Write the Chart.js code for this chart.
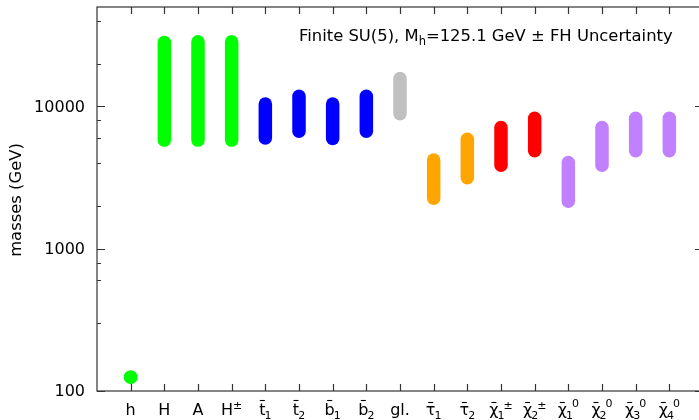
<!DOCTYPE html>
<html>
<head>
<meta charset="utf-8">
<script src="https://cdn.jsdelivr.net/npm/chart.js@4.4.1/dist/chart.umd.min.js"></script>
<style>
  html, body { margin: 0; padding: 0; background: #fff; overflow: hidden; }
  #wrap { width: 699px; height: 420px; overflow: hidden; }
</style>
</head>
<body>
<div id="wrap"><canvas id="massChart" width="710" height="420"></canvas></div>
<script>
// Particle labels (base glyph, subscript, superscript, bar on top)
const labelBase = ["h", "H", "A", "H", "t", "t", "b", "b", "gl.", "τ", "τ", "χ", "χ", "χ", "χ", "χ", "χ"];
const labelSub = ["", "", "", "", "1", "2", "1", "2", "", "1", "2", "1", "2", "1", "2", "3", "4"];
const labelSup = ["", "", "", "±", "", "", "", "", "", "", "", "±", "±", "0", "0", "0", "0"];
const labelBar = [false, false, false, false, true, true, true, true, false, true, true, true, true, true, true, true, true];

// Mass ranges (GeV) for particles H ... chi4^0 (positions 2..17)
const massLow = [5800, 5800, 5800, 6000, 6700, 5950, 6700, 8900, 2260, 3160, 3860, 4880, 2160, 3860, 4880, 4880];
const massHigh = [28200, 28500, 28500, 10400, 11800, 10400, 11800, 15700, 4210, 5890, 7110, 8270, 4030, 7110, 8270, 8270];
const barColors = [
  "#00ff00", "#00ff00", "#00ff00",
  "#0000ff", "#0000ff", "#0000ff", "#0000ff",
  "#c0c0c0",
  "#ffa500", "#ffa500",
  "#ff0000", "#ff0000",
  "#c080ff", "#c080ff", "#c080ff", "#c080ff",
];

// Light Higgs mass
const higgsMass = 125.1;

// Axis ranges and labelled ticks
const yMin = 100;
const yMax = 50000;
const yTickLabels = [100, 1000, 10000];

const FONT = "DejaVu Sans";

// one line dataset per heavy particle
const rangeSets = massLow.map((lo, i) => ({
  type: "line",
  data: [
    { x: i + 2, y: lo },
    { x: i + 2, y: massHigh[i] },
  ],
  borderColor: barColors[i],
  borderWidth: 13.5,
  borderCapStyle: "round",
  pointRadius: 0,
  clip: 20,
}));

const higgsSet = {
  type: "scatter",
  data: [{ x: 1, y: higgsMass }],
  backgroundColor: "#00ff00",
  borderColor: "#00ff00",
  pointRadius: 7,
  borderWidth: 0,
  clip: 20,
};

// Frame, inward ticks and all text
const framePlugin = {
  id: "frame",
  afterDraw(chart) {
    const ctx = chart.ctx;
    const { left, right, top, bottom } = chart.chartArea;
    const xs = chart.scales.x;
    const ys = chart.scales.y;
    ctx.save();
    ctx.strokeStyle = "#333";
    ctx.lineWidth = 1.2;
    ctx.strokeRect(left, top, right - left, bottom - top);

    // y ticks both sides
    ctx.beginPath();
    ys.ticks.forEach((t) => {
      const y = Math.round(ys.getPixelForValue(t.value)) + 0.5;
      const major = yTickLabels.includes(t.value);
      const len = major ? 8 : 4;
      ctx.moveTo(left, y);
      ctx.lineTo(left + len, y);
      ctx.moveTo(right, y);
      ctx.lineTo(right - len, y);
    });
    // x ticks bottom and top
    for (let i = 1; i <= labelBase.length; i++) {
      const x = Math.round(xs.getPixelForValue(i)) + 0.5;
      ctx.moveTo(x, bottom);
      ctx.lineTo(x, bottom - 7);
      ctx.moveTo(x, top);
      ctx.lineTo(x, top + 7);
    }
    ctx.stroke();

    ctx.fillStyle = "#000";
    ctx.font = `16px "${FONT}"`;
    ctx.textAlign = "right";
    ctx.textBaseline = "middle";
    yTickLabels.forEach((v) => {
      ctx.fillText(String(v), left - 12, ys.getPixelForValue(v) + 1);
    });

    // y title
    ctx.save();
    ctx.translate(17, (top + bottom) / 2 + 1);
    ctx.rotate(-Math.PI / 2);
    ctx.textAlign = "center";
    ctx.textBaseline = "middle";
    ctx.font = `16.4px "${FONT}"`;
    ctx.fillText("masses (GeV)", 0, 0);
    ctx.restore();

    // x labels with sub/superscripts
    ctx.textBaseline = "alphabetic";
    ctx.textAlign = "left";
    const base = 415;
    labelBase.forEach((b, i) => {
      ctx.font = `16px "${FONT}"`;
      const wb = ctx.measureText(b).width;
      ctx.font = `11px "${FONT}"`;
      const ws = ctx.measureText(labelSub[i]).width;
      const wp = ctx.measureText(labelSup[i]).width;
      const total = wb + ws + wp - (labelSub[i] ? 1 : 0) - (labelSup[i] && labelSub[i] ? 1 : 0);
      let x = xs.getPixelForValue(i + 1) - total / 2;
      ctx.font = `16px "${FONT}"`;
      ctx.fillText(b, x, base);
      if (labelBar[i]) {
        const by = b === "t" || b === "b" ? 400.5 : 402.5;
        ctx.beginPath();
        ctx.lineWidth = 1.1;
        ctx.strokeStyle = "#000";
        ctx.moveTo(x + wb / 2 - 2.5, by);
        ctx.lineTo(x + wb / 2 + 2.5, by);
        ctx.stroke();
      }
      x += wb;
      ctx.font = `11px "${FONT}"`;
      if (labelSub[i]) {
        ctx.fillText(labelSub[i], x - 1, base + 4);
        x += ws - 2;
      }
      if (labelSup[i]) {
        ctx.fillText(labelSup[i], x, labelSup[i] === "0" ? base - 8 : base - 6);
      }
    });

    // title inside plot
    ctx.font = `16.4px "${FONT}"`;
    const p1 = "Finite SU(5), M";
    const p2 = "=125.1 GeV ± FH Uncertainty";
    let tx = 299;
    ctx.fillText(p1, tx, 41);
    tx += ctx.measureText(p1).width;
    ctx.font = `11.5px "${FONT}"`;
    ctx.fillText("h", tx, 45);
    tx += ctx.measureText("h").width;
    ctx.font = `16.4px "${FONT}"`;
    ctx.fillText(p2, tx, 41);
    ctx.restore();
  },
};

new Chart(document.getElementById("massChart"), {
  type: "line",
  data: { datasets: [higgsSet, ...rangeSets] },
  options: {
    responsive: false,
    animation: false,
    layout: { padding: { left: 97, top: 7, right: 6, bottom: 29 } },
    plugins: { legend: { display: false }, tooltip: { enabled: false } },
    scales: {
      x: { type: "linear", min: 0, max: 18, display: false, ticks: { stepSize: 1 } },
      y: { type: "logarithmic", min: yMin, max: yMax, display: false },
    },
  },
  plugins: [framePlugin],
});
</script>
</body>
</html>
